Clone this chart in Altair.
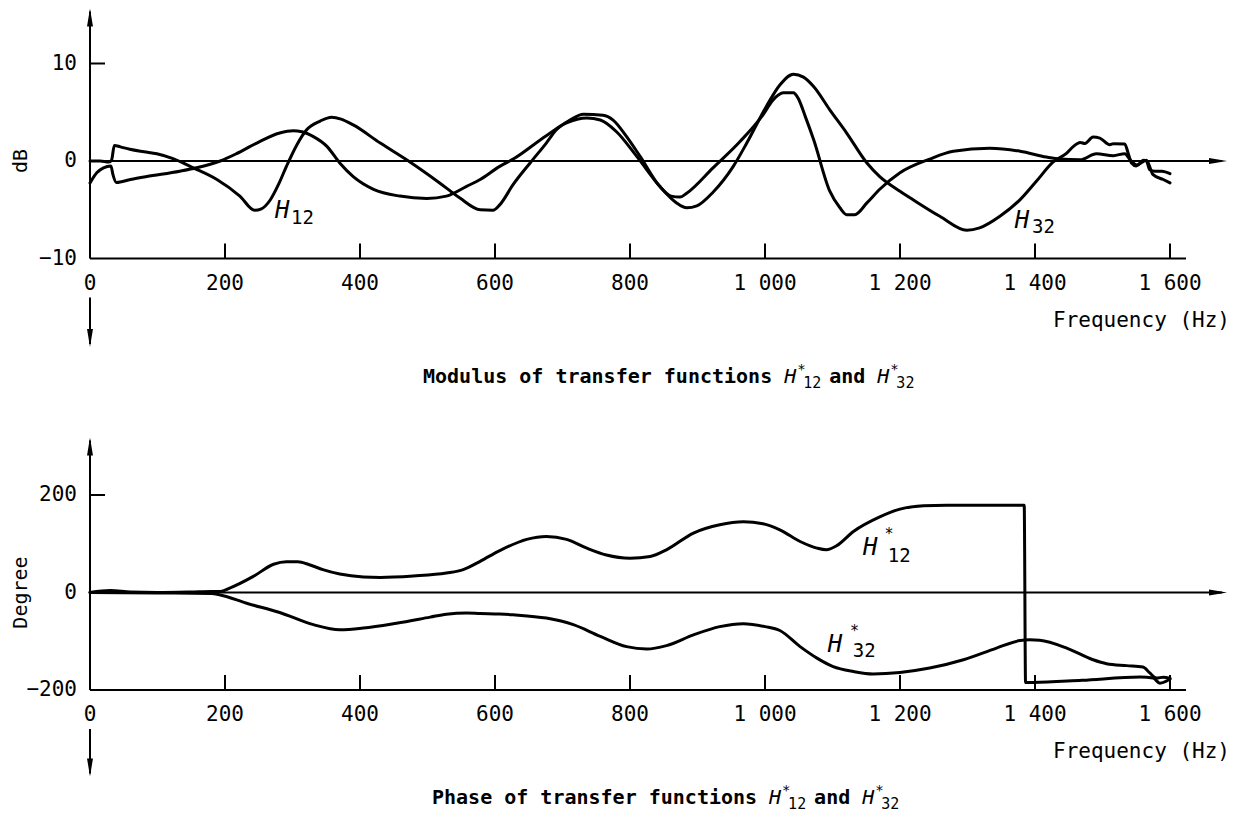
import altair as alt
import pandas as pd

FONT = "DejaVu Sans Mono"

# ---------------- data ----------------
# Modulus (dB) of H12
h12_freq = [0, 15, 28, 32, 36, 45, 59, 80, 99, 123, 153, 188, 222, 244, 254, 267, 280, 291,
            306, 321, 341, 358, 372, 390, 430, 474, 518, 548, 578, 597, 607, 627, 652, 676,
            691, 711, 731, 760, 775, 795, 815, 844, 861, 874, 884, 923, 963, 997, 1012, 1027,
            1042, 1049, 1060, 1072, 1096, 1111, 1121, 1133, 1151, 1170, 1200, 1244, 1279,
            1333, 1378, 1417, 1437, 1467, 1491, 1516, 1533, 1541, 1551, 1565, 1575, 1590, 1600]
h12_db = [0, 0, -0.1, 0.1, 1.6, 1.45, 1.2, 0.95, 0.75, 0.25, -0.7, -1.9, -3.6, -5.05, -4.9,
          -4.0, -2.3, -0.55, 1.6, 3.2, 4.1, 4.5, 4.3, 3.7, 1.84, -0.1, -2.25, -3.8, -5.0, -5.05,
          -4.5, -2.4, -0.2, 1.84, 3.2, 4.2, 4.8, 4.7, 4.2, 2.5, 0.47, -2.6, -3.6, -3.7, -3.3,
          -0.7, 2.0, 4.74, 6.27, 7.0, 7.0, 6.45, 4.5, 2.2, -3.1, -4.8, -5.5, -5.5, -4.3, -2.9,
          -1.2, 0.2, 1.0, 1.3, 1.0, 0.4, 0.2, 0.13, 0.75, 0.55, 0.75, 0.13, -0.4, 0.07, -1.4,
          -1.9, -2.25]

# Modulus (dB) of H32
h32_freq = [0, 10, 20, 31, 34, 39, 60, 84, 133, 158, 193, 217, 247, 281, 301, 314, 331, 351,
            370, 390, 420, 459, 499, 528, 558, 578, 607, 627, 676, 706, 736, 756, 780, 810, 844,
            869, 884, 899, 923, 953, 973, 1002, 1022, 1042, 1057, 1072, 1096, 1121, 1151, 1170,
            1200, 1220, 1259, 1299, 1318, 1348, 1378, 1402, 1427, 1447, 1457, 1467, 1474, 1486,
            1496, 1511, 1516, 1533, 1538, 1543, 1550, 1561, 1565, 1570, 1578, 1588, 1600]
h32_db = [-2.25, -1.2, -0.7, -0.5, -1.4, -2.2, -1.9, -1.6, -1.05, -0.7, 0, 0.75, 1.84, 2.87,
          3.1, 3.0, 2.5, 1.5, -0.2, -1.6, -2.9, -3.6, -3.85, -3.6, -2.6, -1.9, -0.55, 0.2, 2.6,
          3.9, 4.4, 4.2, 3.0, 0.47, -2.6, -4.3, -4.8, -4.6, -3.2, -0.55, 1.84, 5.6, 7.8, 8.9,
          8.6, 7.64, 5.25, 2.87, -0.2, -1.6, -3.1, -4.0, -5.67, -7.1, -6.86, -5.67, -3.96,
          -2.08, -0.1, 0.8, 1.5, 1.9, 1.8, 2.45, 2.35, 1.67, 1.77, 1.75, 0.8, -0.2, -0.5, 0.07,
          0, -0.9, -1.05, -1.05, -1.3]

# Phase (degree) of H*12
ph12_freq = [0, 30, 60, 100, 150, 180, 193, 207, 242, 272, 291, 308, 325, 345, 370, 405, 430,
             479, 528, 553, 578, 607, 647, 676, 706, 736, 765, 800, 830, 854, 894, 933, 968,
             997, 1022, 1052, 1077, 1091, 1106, 1131, 1170, 1200, 1235, 1269, 1384, 1386,
             1397, 1470, 1556, 1575, 1585, 1600]
ph12_deg = [0, 4, 1, 0, 1, 2, 2, 9, 33, 58, 63, 63, 57, 47, 38, 32, 31, 34, 40, 47, 64, 86,
            109, 115, 109, 91, 77, 70.5, 74, 87.6, 122, 139, 145, 141, 128.6, 104.6, 91, 87.6,
            95.8, 125, 155, 171, 178, 179, 179, -184.6, -184.6, -180, -173.5, -175.6, -186,
            -177.6]

# Phase (degree) of H*32
ph32_freq = [0, 100, 180, 193, 232, 281, 331, 370, 405, 454, 504, 528, 558, 578, 607, 627, 676,
             716, 756, 795, 825, 854, 894, 933, 968, 1000, 1022, 1052, 1077, 1101, 1131, 1160,
             1200, 1244, 1294, 1343, 1378, 1392, 1407, 1447, 1486, 1506, 1536, 1560, 1570,
             1580, 1590, 1600]
ph32_deg = [0, -1, -2, -5, -22, -41, -66, -76.5, -73, -63, -50.5, -44.5, -42, -43, -44, -45.7,
            -52.5, -66, -90, -111, -116, -109, -87, -70, -64, -70, -78, -111, -134.6, -152, -162,
            -167, -164, -155, -138, -114, -98.5, -97, -98, -114, -138, -146, -150, -153, -165,
            -175.6, -173.6, -176]

x_tick_values = [0, 200, 400, 600, 800, 1000, 1200, 1400, 1600]
x_tick_labels = ["0", "200", "400", "600", "800", "1 000", "1 200", "1 400", "1 600"]
mod_tick_values = [-10, 0, 10]
mod_tick_labels = ["\u221210", "0", "10"]
phase_tick_values = [-200, 0, 200]
phase_tick_labels = ["\u2212200", "0", "200"]

# ---------------- scales ----------------
X = alt.Scale(domain=[0, 1600], range=[82, 1162], nice=False, zero=False)
YM = alt.Scale(domain=[-10, 10], range=[250.5, 55.5], nice=False, zero=False)
YP = alt.Scale(domain=[-200, 200], range=[682, 487], nice=False, zero=False)

UP = "M0,-1L0.33,1L-0.33,1Z"
DOWN = "M0,1L0.33,-1L-0.33,-1Z"
RIGHT = "M1,0L-1,-0.33L-1,0.33Z"


def xenc(field):
    return alt.X(field, scale=X, axis=None)


def curve(freq, vals, ys):
    df = pd.DataFrame({"f": freq, "v": vals})
    return alt.Chart(df).mark_line(
        color="black", strokeWidth=3, interpolate="monotone",
        strokeJoin="round", strokeCap="round"
    ).encode(x=xenc("f:Q"), y=alt.Y("v:Q", scale=ys, axis=None))


def txt(text, x, y, size=21, style="normal", weight="normal", align="left",
        baseline="alphabetic", angle=0):
    df = pd.DataFrame({"s": [text]})
    return alt.Chart(df).mark_text(
        font=FONT, fontSize=size, fontStyle=style, fontWeight=weight,
        align=align, baseline=baseline, angle=angle, color="black"
    ).encode(x=alt.value(x), y=alt.value(y), text="s:N")


def data_txt(text, f, v, ys, size=24, style="normal", align="left",
             baseline="alphabetic"):
    df = pd.DataFrame({"s": [text], "f": [f], "v": [v]})
    return alt.Chart(df).mark_text(
        font=FONT, fontSize=size, fontStyle=style, align=align,
        baseline=baseline, color="black"
    ).encode(x=xenc("f:Q"), y=alt.Y("v:Q", scale=ys, axis=None), text="s:N")


def frame(ys, ymin, top_tick, y_top_tip, y_bot_tip, tick_vals, tick_labs,
          ytitle, title_x, label_y, freq_y):
    layers = []
    one = pd.DataFrame({"a": [0], "z": [0], "lo": [ymin], "hi": [top_tick]})
    # vertical axis line (interrupted by the "0" label) with arrows
    layers.append(alt.Chart(one).mark_rule(color="black", strokeWidth=2).encode(
        x=xenc("a:Q"), y=alt.Y("lo:Q", scale=ys, axis=None), y2=alt.value(y_top_tip + 3)))
    layers.append(alt.Chart(one).mark_rule(color="black", strokeWidth=2).encode(
        x=xenc("a:Q"), y=alt.value(label_y + 14), y2=alt.value(y_bot_tip - 3)))
    layers.append(alt.Chart(one).mark_point(
        shape=UP, size=324, filled=True, color="black", opacity=1, strokeWidth=0
    ).encode(x=xenc("a:Q"), y=alt.value(y_top_tip + 9)))
    layers.append(alt.Chart(one).mark_point(
        shape=DOWN, size=324, filled=True, color="black", opacity=1, strokeWidth=0
    ).encode(x=xenc("a:Q"), y=alt.value(y_bot_tip - 9)))
    # zero line with arrow
    layers.append(alt.Chart(one).mark_rule(color="black", strokeWidth=2).encode(
        x=xenc("a:Q"), x2=alt.value(1214), y=alt.Y("z:Q", scale=ys, axis=None)))
    layers.append(alt.Chart(one).mark_point(
        shape=RIGHT, size=324, filled=True, color="black", opacity=1, strokeWidth=0
    ).encode(x=alt.value(1210), y=alt.Y("z:Q", scale=ys, axis=None)))
    # bottom frame line
    layers.append(alt.Chart(one).mark_rule(color="black", strokeWidth=2).encode(
        x=xenc("a:Q"), x2=alt.value(1178), y=alt.Y("lo:Q", scale=ys, axis=None)))
    # y tick at top value
    layers.append(alt.Chart(one).mark_rule(color="black", strokeWidth=2).encode(
        x=xenc("a:Q"), x2=alt.value(97), y=alt.Y("hi:Q", scale=ys, axis=None)))
    # x ticks (inward)
    tdf = pd.DataFrame({"t": x_tick_values[1:], "lo": [ymin] * (len(x_tick_values) - 1)})
    layers.append(alt.Chart(tdf).mark_rule(color="black", strokeWidth=2).encode(
        x=xenc("t:Q"), y=alt.Y("lo:Q", scale=ys, axis=None),
        y2=alt.value(label_y - 40)))
    # x tick labels
    ldf = pd.DataFrame({"t": x_tick_values, "lab": x_tick_labels})
    layers.append(alt.Chart(ldf).mark_text(
        font=FONT, fontSize=21, align="center", baseline="middle", color="black"
    ).encode(x=xenc("t:Q"), y=alt.value(label_y), text="lab:N"))
    # y tick labels
    ydf = pd.DataFrame({"v": tick_vals, "lab": tick_labs})
    layers.append(alt.Chart(ydf).mark_text(
        font=FONT, fontSize=21, align="right", baseline="middle", color="black"
    ).encode(x=alt.value(69), y=alt.Y("v:Q", scale=ys, axis=None), text="lab:N"))
    # y title
    tdf2 = pd.DataFrame({"s": [ytitle], "v": [0]})
    layers.append(alt.Chart(tdf2).mark_text(
        font=FONT, fontSize=20, align="center", baseline="middle", angle=270,
        color="black"
    ).encode(x=alt.value(title_x), y=alt.Y("v:Q", scale=ys, axis=None), text="s:N"))
    # x title
    layers.append(txt("Frequency (Hz)", 1222, freq_y, align="right", baseline="middle"))
    return layers


def rich_title(prefix, x0, y0):
    adv = 12.04
    hx = x0 + (len(prefix) + 1) * adv
    parts = [
        txt(prefix, x0, y0, size=20, weight="bold"),
        txt("H", hx, y0, size=20, style="italic"),
        txt("*", hx + 13, y0 - 9, size=14),
        txt("12", hx + 19, y0 + 5, size=15),
        txt("and", hx + 45, y0, size=20, weight="bold"),
    ]
    h2 = hx + 45 + 4 * adv
    parts += [
        txt("H", h2, y0, size=20, style="italic"),
        txt("*", h2 + 13, y0 - 9, size=14),
        txt("32", h2 + 19, y0 + 5, size=15),
    ]
    return parts


# ---------------- top panel: modulus ----------------
top_layers = frame(YM, -10, 10, 0.5, 339, mod_tick_values, mod_tick_labels, "dB",
                   13, 275.5, 313)
top_layers += [curve(h12_freq, h12_db, YM), curve(h32_freq, h32_db, YM)]
top_layers += [
    data_txt("H", 274, -5.85, YM, style="italic"),
    data_txt("12", 297.8, -6.46, YM, size=19),
    data_txt("H", 1370, -6.87, YM, style="italic"),
    data_txt("32", 1395.6, -7.38, YM, size=19),
]
top_layers += rich_title("Modulus of transfer functions", 415, 375)

# ---------------- bottom panel: phase ----------------
bot_layers = frame(YP, -200, 200, 429.5, 768.5, phase_tick_values, phase_tick_labels,
                   "Degree", 13, 707, 744)
bot_layers += [curve(ph12_freq, ph12_deg, YP), curve(ph32_freq, ph32_deg, YP)]
bot_layers += [
    data_txt("H", 1145, 77, YP, style="italic"),
    data_txt("*", 1177, 121, YP, size=15, baseline="middle"),
    data_txt("12", 1182, 62.6, YP, size=19),
    data_txt("H", 1093, -122, YP, style="italic"),
    data_txt("*", 1126, -79, YP, size=15, baseline="middle"),
    data_txt("32", 1130, -132, YP, size=19),
]
bot_layers += rich_title("Phase of transfer functions", 424, 796)

chart = alt.layer(alt.layer(*top_layers), alt.layer(*bot_layers)).resolve_scale(
    y="independent"
).properties(
    width=1223, height=805, padding=0,
    autosize=alt.AutoSizeParams(type="none")
).configure_view(stroke=None)

chart.save("out.html", embed_options={"renderer": "svg", "actions": False})
